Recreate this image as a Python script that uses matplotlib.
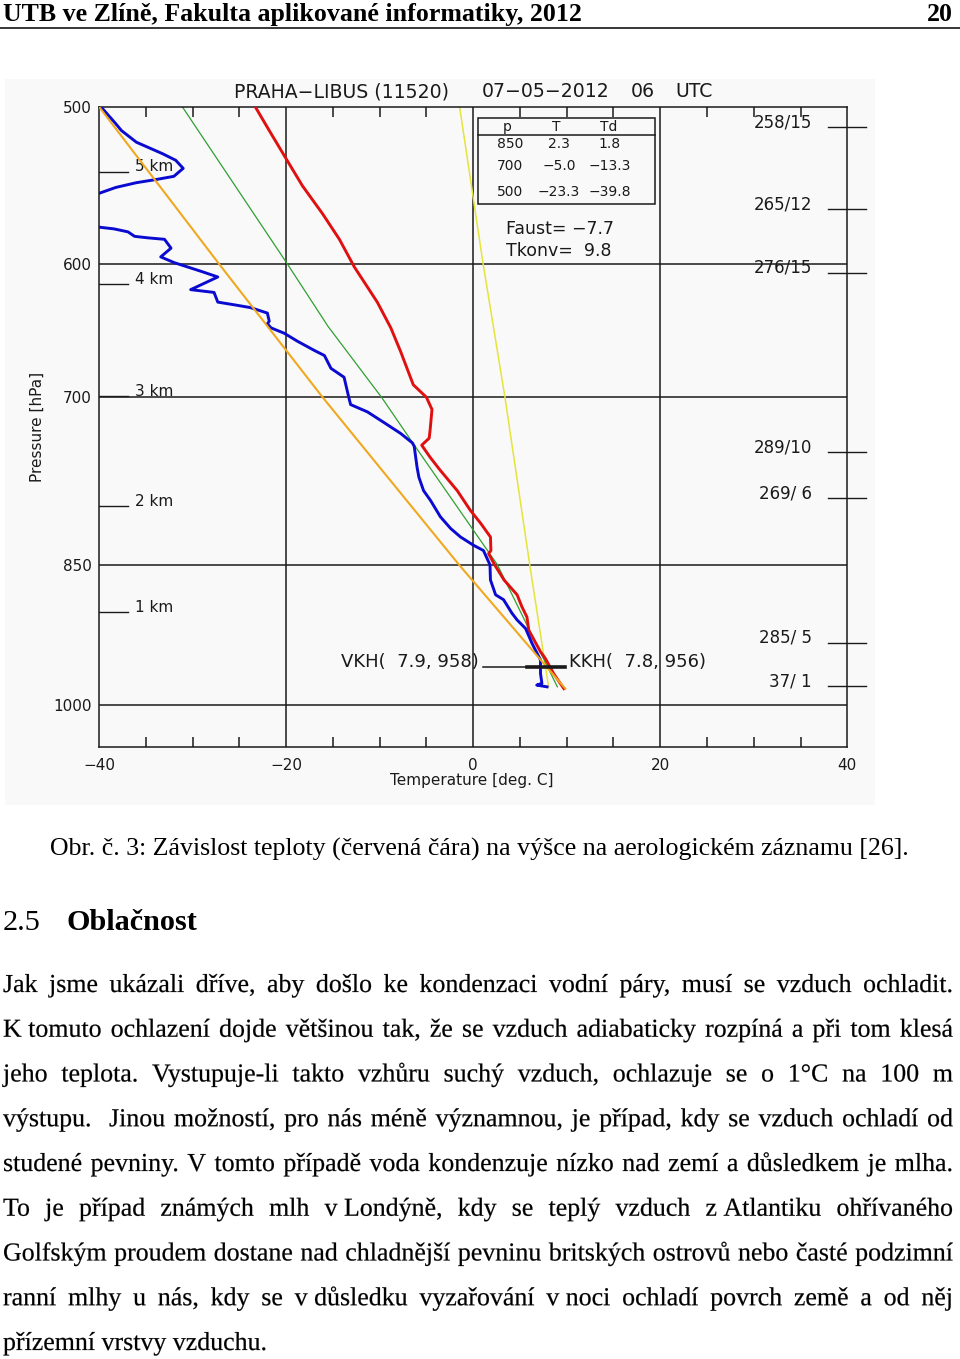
import matplotlib
matplotlib.use('Agg')
import matplotlib.pyplot as plt
from matplotlib.patches import Rectangle, PathPatch
from matplotlib.lines import Line2D
from matplotlib.ticker import NullLocator
from matplotlib.textpath import TextPath, text_to_path
from matplotlib.font_manager import FontProperties
from matplotlib.transforms import Affine2D

# ---- sounding data ----
temp_T = [-23.3, -21.8, -20.0, -18.25, -16.1, -14.3, -12.7, -10.25, -8.8, -7.75, -6.4, -5.0,
          -4.4, -4.6, -4.7, -5.5, -4.55, -3.5, -1.7, -0.3, 0.8, 1.85, 1.9, 1.65, 2.3, 3.3, 4.7,
          5.2, 5.75, 5.95, 6.5, 7.2, 7.7, 8.6, 9.7]
temp_p = [500, 514, 531, 548, 566, 583, 602, 627, 646, 664, 690, 700,
          710, 727, 734, 740, 751, 762, 780, 798, 810, 823, 836, 839, 850, 865, 880,
          892, 903, 917, 927, 940, 947, 964, 981]

dew_T = [-39.8, -38.2, -37.6, -36.0, -33.2, -31.8, -31.0, -32.0, -33.9, -36.0, -38.2, -40.1,
         -44.0, -44.0, -39.8, -38.4, -36.9, -36.2, -34.8, -33.0, -32.3, -33.4, -31.95, -29.1,
         -27.3, -30.2, -27.7, -27.3, -25.5, -23.8, -22.0, -21.8, -22.0, -21.6, -20.2, -18.8,
         -17.0, -15.9, -15.2, -13.8, -13.3, -13.1, -11.3, -9.5, -7.75, -6.5, -6.3, -6.0, -5.8,
         -5.3, -4.55, -3.5, -2.4, -1.35, 0.05, 1.1, 1.8, 1.85, 2.4, 3.25, 4.15, 4.7, 5.6, 6.3,
         6.65, 7.2, 7.2, 7.35, 6.8, 7.9]
dew_p = [500, 510, 514, 521, 528, 532, 537, 542, 544, 546, 549, 553,
         558, 570, 575, 576, 578, 581, 582, 583, 589, 595, 599, 605,
         609, 618, 620, 627, 629, 631, 635, 641, 643, 646, 650, 656,
         663, 667, 677, 684, 700, 706, 712, 721, 730, 738, 741, 759, 768,
         780, 789, 804, 815, 823, 831, 836, 850, 865, 880, 885, 899, 906, 915, 931,
         938, 949, 964, 975, 977, 979]

moist_T = [-31.1, -19.85, -15.5, -9.8, -6.2, 2.6, 9.0]
moist_p = [500, 600, 645, 700, 741, 850, 979]

dry_T = [-40.0, -27.15, -16.1, -1.5, 9.85]
dry_p = [500, 600, 700, 850, 981]

mix_T = [-1.45, 1.07, 3.4, 6.05, 8.07]
mix_p = [500, 600, 700, 850, 979]

# condensation level
vkh_T, vkh_p = 7.9, 958
kkh_T, kkh_p = 7.8, 956
ccl_line_T = [1.0, 9.85]
ccl_bold_T = [5.8, 9.85]
ccl_line_p = 957

# axis ticks
p_ticks = [500, 600, 700, 850, 1000]
t_ticks = [-40, -20, 0, 20, 40]
t_minor = [t for t in range(-35, 40, 5) if t % 20 != 0]

# height marks
km_levels = [1, 2, 3, 4, 5]
km_p = [898, 794, 699, 614, 539]

# wind on the right
wind_p = [512, 563, 606, 746, 787, 930, 978]
wind_labels = ['258/15', '265/12', '276/15', '289/10', '269/ 6', '285/ 5', '37/ 1']

# table in the corner
table_p = ['850', '700', '500']
table_T = ['2.3', '\u22125.0', '\u221223.3']
table_Td = ['1.8', '\u221213.3', '\u221239.8']
faust = '\u22127.7'
tkonv = '9.8'

# ---- page text ----
header_left = 'UTB ve Zlíně, Fakulta aplikované informatiky, 2012'
header_right = '20'
caption = 'Obr. č. 3: Závislost teploty (červená čára) na výšce na aerologickém záznamu [26].'
section_no = '2.5'
section_title = 'Oblačnost'
nb = '\u00a0'
body_lines = [
    'Jak jsme ukázali dříve, aby došlo ke kondenzaci vodní páry, musí se vzduch ochladit.',
    'K' + nb + 'tomuto ochlazení dojde většinou tak, že se vzduch adiabaticky rozpíná a při tom klesá',
    'jeho teplota. Vystupuje-li takto vzhůru suchý vzduch, ochlazuje se o 1°C na 100 m',
    'výstupu.  Jinou možností, pro nás méně významnou, je případ, kdy se vzduch ochladí od',
    'studené pevniny. V tomto případě voda kondenzuje nízko nad zemí a důsledkem je mlha.',
    'To je případ známých mlh v' + nb + 'Londýně, kdy se teplý vzduch z' + nb + 'Atlantiku ohřívaného',
    'Golfským proudem dostane nad chladnější pevninu britských ostrovů nebo časté podzimní',
    'ranní mlhy u nás, kdy se v' + nb + 'důsledku vyzařování v' + nb + 'noci ochladí povrch země a od něj',
    'přízemní vrstvy vzduchu.',
]

W, H = 960, 1359
fig = plt.figure(figsize=(W / 100, H / 100), dpi=100)
fig.patch.set_facecolor('white')


def fx(x):
    return x / W


def fy(y):
    return 1 - y / H


ink = '#1a1a1a'
chart_font = 'DejaVu Sans'
serif = 'Liberation Serif'

# background of the scanned chart
fig.add_artist(Rectangle((fx(5), fy(805)), 870 / W, 726 / H, transform=fig.transFigure,
                         facecolor='#f9f9f9', edgecolor='none', zorder=-1))

ax = fig.add_axes([fx(99), fy(747.3), (847.3 - 99) / W, (747.3 - 106.7) / H])
ax.set_facecolor('none')
ax.set_yscale('log')
ax.set_xlim(-40, 40)
ax.set_ylim(1050, 500)

for s in ax.spines.values():
    s.set_color(ink)
    s.set_linewidth(1.1)

ax.set_yticks(p_ticks)
ax.set_yticklabels([str(p) for p in p_ticks])
ax.yaxis.set_minor_locator(NullLocator())
ax.set_xticks(t_ticks)
ax.set_xticklabels([str(t).replace('-', '\u2212') for t in t_ticks])
ax.set_xticks(t_minor, minor=True)
ax.tick_params(axis='y', which='both', length=0, pad=5, labelsize=11, colors=ink)
ax.tick_params(axis='x', which='major', length=0, pad=8, labelsize=11, colors=ink)
ax.tick_params(axis='x', which='minor', direction='in', top=True, bottom=True,
               length=7.2, width=1.1, color=ink)
ax.get_yticklabels()[0].set_y(505)

for p in p_ticks[1:]:
    ax.axhline(p, color=ink, lw=1.1, zorder=1)
for t in t_ticks[1:-1]:
    ax.axvline(t, color=ink, lw=1.1, zorder=1)

ax.plot(mix_T, mix_p, color='#e4e43c', lw=1.1, zorder=2)
ax.plot(moist_T, moist_p, color='#30a030', lw=0.9, zorder=2)
ax.plot(temp_T, temp_p, color='#e01010', lw=2.1, zorder=3)
ax.plot(dew_T, dew_p, color='#0a0ad0', lw=2.1, zorder=3)
ax.plot(dry_T, dry_p, color='#f0a820', lw=1.5, zorder=4)

ax.plot(ccl_line_T, [ccl_line_p] * 2, color=ink, lw=1.1, zorder=5)
ax.plot(ccl_bold_T, [ccl_line_p] * 2, color=ink, lw=2.6, zorder=5)
ax.annotate(f'VKH(  {vkh_T}, {vkh_p})', xy=(-14.15, ccl_line_p), xytext=(0, 3.5),
            textcoords='offset points', ha='left', va='center', fontsize=13,
            color=ink, family=chart_font)
ax.annotate(f'KKH(  {kkh_T}, {kkh_p})', xy=(10.3, ccl_line_p), xytext=(0, 4),
            textcoords='offset points', ha='left', va='center', fontsize=13,
            color=ink, family=chart_font)

# height marks
for k, p in zip(km_levels, km_p):
    ax.plot([-40, -36.9], [p, p], color=ink, lw=1.0, zorder=5)
    ax.annotate(f'{k} km', xy=(-36.15, p), xytext=(0, 3.5), textcoords='offset points',
                ha='left', va='center', fontsize=11, color=ink, family=chart_font)

# wind marks
for lab, p in zip(wind_labels, wind_p):
    ax.plot([37.9, 42.05], [p, p], color=ink, lw=1.0, clip_on=False, zorder=5)
    ax.annotate(lab, xy=(36.2, p), xytext=(0, 3.5), textcoords='offset points',
                ha='right', va='center', fontsize=12, color=ink, family=chart_font)

# title
for txt, x in [('PRAHA\u2212LIBUS (11520)', 234), ('07\u221205\u22122012', 482),
               ('06', 631), ('UTC', 675)]:
    fig.text(fx(x), fy(91.7), txt, ha='left', va='center', fontsize=13.6,
             color=ink, family=chart_font)

fig.text(fx(37), fy(427), 'Pressure [hPa]', rotation=90, ha='center', va='center',
         fontsize=11, color=ink, family=chart_font)
fig.text(fx(472), fy(780), 'Temperature [deg. C]', ha='center', va='center',
         fontsize=11, color=ink, family=chart_font)

# table box
fig.add_artist(Rectangle((fx(478.3), fy(204.3)), (655 - 478.3) / W, (204.3 - 117.7) / H,
                         transform=fig.transFigure, facecolor='none', edgecolor=ink,
                         lw=1.1, zorder=5))
fig.add_artist(Line2D([fx(478.3), fx(655)], [fy(135), fy(135)], transform=fig.transFigure,
                      color=ink, lw=1.1))
for txt, x in [('p', 506.7), ('T', 556), ('Td', 608.3)]:
    fig.text(fx(x), fy(126.7), txt, ha='center', va='center', fontsize=10,
             color=ink, family=chart_font)
for pr, t, td, y in zip(table_p, table_T, table_Td, [144.3, 165.7, 191.7]):
    fig.text(fx(496.7), fy(y), pr, ha='left', va='center', fontsize=10, color=ink,
             family=chart_font)
    fig.text(fx(559), fy(y), t, ha='center', va='center', fontsize=10, color=ink,
             family=chart_font)
    fig.text(fx(610), fy(y), td, ha='center', va='center', fontsize=10, color=ink,
             family=chart_font)
fig.text(fx(505.7), fy(229), f'Faust= {faust}', ha='left', va='center', fontsize=12.5,
         color=ink, family=chart_font)
fig.text(fx(505.7), fy(250.7), f'Tkonv=  {tkonv}', ha='left', va='center', fontsize=12.5,
         color=ink, family=chart_font)

# ---- page ----
body_size = 18.65
fig.text(fx(3), fy(21), header_left, ha='left', va='baseline', fontsize=body_size,
         fontweight='bold', family=serif, color='black')
fig.text(fx(953), fy(21), header_right, ha='right', va='baseline', fontsize=body_size,
         fontweight='bold', family=serif, color='black')
fig.add_artist(Line2D([0, 1], [fy(27.5), fy(27.5)], transform=fig.transFigure,
                      color='black', lw=1.1))

fig.text(fx(50), fy(856), caption, ha='left', va='baseline', fontsize=body_size,
         family=serif, color='black')
fig.text(fx(3), fy(930), section_no, ha='left', va='baseline', fontsize=21.75,
         family=serif, color='black')
fig.text(fx(67), fy(930), section_title, ha='left', va='baseline', fontsize=21.75,
         fontweight='bold', family=serif, color='black')

# justified paragraph, words drawn as glyph paths so they share one baseline
body_px = body_size * 100 / 72
fp = FontProperties(family=serif, size=body_px)
to_fig = Affine2D().scale(1 / W, 1 / H) + fig.transFigure
x0, x1 = 3, 953
for i, line in enumerate(body_lines):
    yb = H - (992 + i * 44.75)
    words = line.split(' ')
    widths = [text_to_path.get_text_width_height_descent(w, fp, ismath=False)[0] if w else 0
              for w in words]
    if i == len(body_lines) - 1:
        gap = 0.25 * body_px
    else:
        gap = (x1 - x0 - sum(widths)) / (len(words) - 1)
    x = x0
    for w, wd in zip(words, widths):
        if w:
            path = TextPath((0, 0), w, size=body_px, prop=fp)
            fig.add_artist(PathPatch(path, transform=Affine2D().translate(x, yb) + to_fig,
                                     facecolor='black', edgecolor='black', lw=0.15))
        x += wd + gap

fig.savefig('out.png', dpi=100)
